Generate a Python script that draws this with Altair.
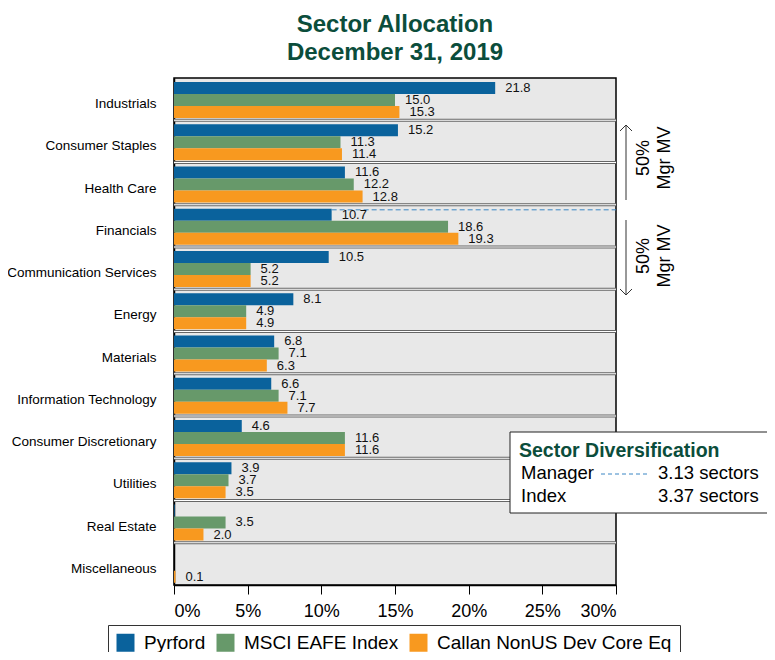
import altair as alt
import pandas as pd

categories = ["Industrials", "Consumer Staples", "Health Care", "Financials",
              "Communication Services", "Energy", "Materials", "Information Technology",
              "Consumer Discretionary", "Utilities", "Real Estate", "Miscellaneous"]
series = ["Pyrford", "MSCI EAFE Index", "Callan NonUS Dev Core Eq"]
colors = ["#0a629c", "#67996a", "#f8991f"]
pyrford = [21.8, 15.2, 11.6, 10.7, 10.5, 8.1, 6.8, 6.6, 4.6, 3.9, 0.05, 0.0]
msci = [15.0, 11.3, 12.2, 18.6, 5.2, 4.9, 7.1, 7.1, 11.6, 3.7, 3.5, 0.0]
callan = [15.3, 11.4, 12.8, 19.3, 5.2, 4.9, 6.3, 7.7, 11.6, 3.5, 2.0, 0.1]
x_ticks = [0, 5, 10, 15, 20, 25, 30]
manager_split_category = "Financials"
manager_split_value = 10.7

rows = []
for s, vals in zip(series, [pyrford, msci, callan]):
    for c, v in zip(categories, vals):
        rows.append({"cat": c, "series": s, "value": v,
                     "label": f"{v:.1f}" if v >= 0.1 else ""})
df = pd.DataFrame(rows)

W, H = 442, 507
FONT = "Liberation Sans"

yscale = alt.Scale(domain=categories, paddingInner=0, paddingOuter=0)
yenc = alt.Y("cat:N", scale=yscale, title=None,
             axis=alt.Axis(labelFontSize=13.5, labelColor="black", ticks=False,
                           domainColor="black", domainWidth=1.5, labelPadding=18,
                           labelOffset=5, grid=False, labelFont=FONT))
yoff = alt.YOffset("series:N", sort=series,
                   scale=alt.Scale(domain=series, paddingInner=0, paddingOuter=0.26, align=0.64))
xenc = alt.X("value:Q", scale=alt.Scale(domain=[0, 30], nice=False, zero=True), title=None,
             axis=alt.Axis(values=x_ticks, labelExpr="datum.value + '%'", tickSize=9,
                           tickColor="black", domainColor="black", domainWidth=1.5,
                           labelFontSize=18, labelPadding=8, grid=False, labelColor="black",
                           labelFont=FONT))

base = alt.Chart(df)

# row separators
sep_df = pd.DataFrame({"cat": categories[1:]})
sep_dark = alt.Chart(sep_df).mark_rule(color="#666666", strokeWidth=3).encode(
    y=alt.Y("cat:N", scale=yscale, bandPosition=0), x=alt.value(0), x2=alt.value(W))
sep_white = alt.Chart(sep_df).mark_rule(color="white", strokeWidth=1).encode(
    y=alt.Y("cat:N", scale=yscale, bandPosition=0), x=alt.value(0), x2=alt.value(W))

bars = base.mark_bar(size=12).encode(
    y=yenc, yOffset=yoff, x=xenc,
    color=alt.Color("series:N", sort=series,
                    scale=alt.Scale(domain=series, range=colors),
                    legend=alt.Legend(title=None, orient="none", legendX=-66, legendY=547,
                                      direction="horizontal", strokeColor="#333",
                                      padding=8, symbolType="square", symbolSize=324,
                                      symbolStrokeWidth=0, labelFontSize=19,
                                      labelColor="black", columnPadding=10, labelLimit=0,
                                      labelOffset=9, labelFont=FONT, fillColor="white")),
)

labels = base.mark_text(align="left", baseline="middle", dx=10, dy=0, fontSize=13,
                        color="#111", font=FONT).encode(
    y=alt.Y("cat:N", scale=yscale), yOffset=yoff, x="value:Q", text="label:N")

dash_df = pd.DataFrame({"cat": [manager_split_category], "x": [manager_split_value], "x2": [30]})
dash = alt.Chart(dash_df).mark_rule(color="#3a86c4", strokeDash=[5, 3], strokeWidth=1).encode(
    y=alt.Y("cat:N", scale=yscale, bandPosition=0.12), x="x:Q", x2="x2:Q")

one = pd.DataFrame({"a": [0]})


def seg(x1, y1, x2, y2, color="#333", dash=None, width=1):
    kw = dict(color=color, strokeWidth=width)
    if dash:
        kw["strokeDash"] = dash
    return alt.Chart(one).mark_rule(**kw).encode(
        x=alt.value(x1), y=alt.value(y1), x2=alt.value(x2), y2=alt.value(y2))


def txt(s, x, y, size=18.5, bold=False, color="black", align="left", baseline="alphabetic",
        angle=0):
    kw = dict(fontSize=size, color=color, align=align, baseline=baseline, font=FONT,
              fontWeight="bold" if bold else "normal", lineHeight=21)
    if angle:
        kw["angle"] = angle
        kw["lineBreak"] = "\n"
    return alt.Chart(one).mark_text(**kw).encode(
        x=alt.value(x), y=alt.value(y), text=alt.value(s))


arrows = [
    seg(452, 47, 452, 122), seg(452, 47, 446, 53), seg(452, 47, 458, 53),
    seg(452, 142, 452, 217), seg(452, 217, 446, 211), seg(452, 217, 458, 211),
    txt("50%\nMgr MV", 470, 80, size=18, align="center", baseline="middle", angle=270),
    txt("50%\nMgr MV", 470, 178, size=18, align="center", baseline="middle", angle=270),
]

box = alt.Chart(one).mark_rect(fill="white", stroke="#222", strokeWidth=1).encode(
    x=alt.value(336), x2=alt.value(640), y=alt.value(354), y2=alt.value(435))
box_items = [
    box,
    txt("Sector Diversification", 345, 379, size=19.5, bold=True, color="#0b4d3b"),
    txt("Manager", 347, 401),
    seg(427, 396, 474, 396, color="#3a86c4", dash=[4, 3]),
    txt("3.13 sectors", 484, 401),
    txt("Index", 347, 424),
    txt("3.37 sectors", 484, 424),
]

chart = alt.layer(sep_dark, sep_white, bars, dash, labels, *arrows, *box_items).properties(
    width=W, height=H,
    title=alt.TitleParams(["Sector Allocation", "December 31, 2019"], fontSize=24,
                          color="#0b4d3b", font=FONT, fontWeight="bold", anchor="middle",
                          offset=13, lineHeight=28),
    autosize=alt.AutoSizeParams(type="none"),
    padding={"left": 166, "top": 70, "right": 151, "bottom": 67},
).configure_view(fill="#e8e8e8", stroke="black", strokeWidth=1.5)

chart.save("out.html", embed_options={"renderer": "svg", "actions": False})
